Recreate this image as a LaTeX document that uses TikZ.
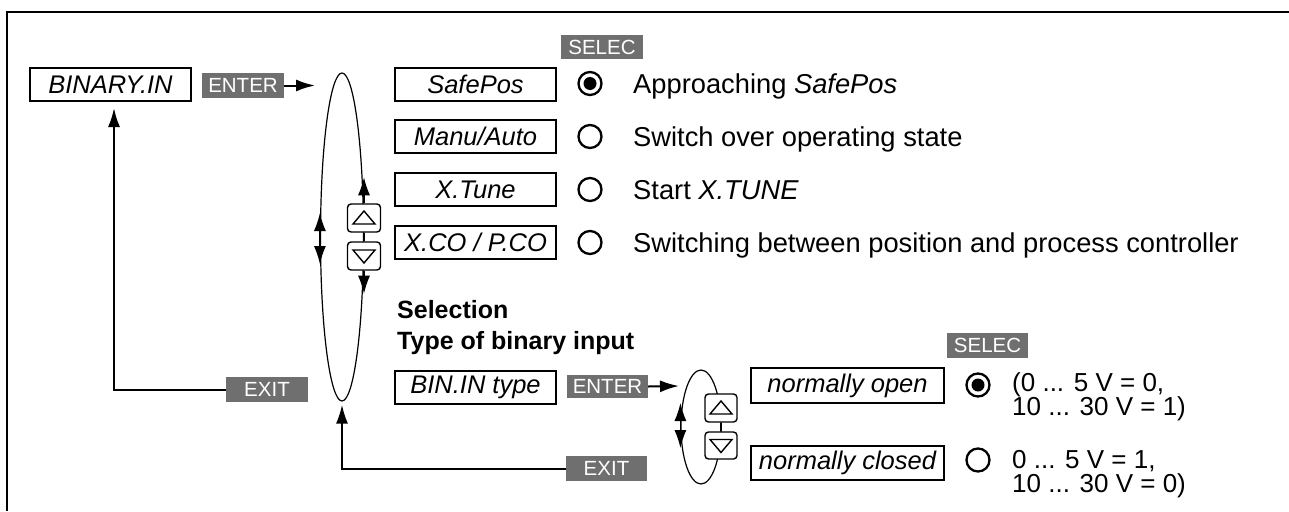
\documentclass[tikz,border=0pt]{standalone}
\usepackage{fontspec}
\setmainfont{Liberation Sans}
\usetikzlibrary{arrows.meta,shapes.geometric,calc}
\definecolor{keygray}{HTML}{6F6F6F}
\begin{document}
\begin{tikzpicture}[x=1pt,y=-1pt,
  lbl/.style={draw, line width=2pt, minimum height=33pt, minimum width=161pt, inner sep=0pt, font=\fontsize{25.5}{30}\selectfont\itshape},
  key/.style={fill=keygray, text=white, inner sep=0pt, minimum width=82pt, minimum height=25pt, font=\fontsize{20.5}{24}\selectfont},
  radio/.style={draw, circle, line width=2.3pt, minimum size=23pt, inner sep=0pt},
  radiosel/.style={radio, path picture={\fill (path picture bounding box.center) circle (6.5pt);}},
  body/.style={anchor=base west, inner sep=0pt, font=\fontsize{27.3}{32}\selectfont},
  volt/.style={anchor=base west, inner sep=0pt, font=\fontsize{26}{30}\selectfont},
  head/.style={anchor=base west, inner sep=0pt, font=\fontsize{25}{30}\selectfont\bfseries},
  loop/.style={draw, ellipse, line width=1.2pt, inner sep=0pt},
  btn/.style={draw, fill=white, rounded corners=3.5pt, line width=1.4pt, minimum width=33pt, minimum height=28pt, inner sep=0pt},
  btnup/.style={btn, path picture={\draw[sharp corners, line width=1.4pt]
      ([xshift=-11pt,yshift=-6pt]path picture bounding box.center) -- ([xshift=11pt,yshift=-6pt]path picture bounding box.center) -- ([yshift=7pt]path picture bounding box.center) -- cycle;}},
  btndn/.style={btn, path picture={\draw[sharp corners, line width=1.4pt]
      ([xshift=-11pt,yshift=6pt]path picture bounding box.center) -- ([xshift=11pt,yshift=6pt]path picture bounding box.center) -- ([yshift=-7pt]path picture bounding box.center) -- cycle;}},
  arr/.style={-{Latex[length=19pt,width=12pt]}, line width=2pt},
  thinarr/.style={-{Latex[length=18pt,width=12pt]}, line width=1.2pt}
]
\useasboundingbox (0,0) rectangle (1289,511);
% frame
\draw[line width=2.2pt] (7,511) -- (7,12) -- (1289,12);

% first level
\node[lbl] (binin) at (110.5,84.5) {BINARY.IN};
\node[key] (enter1) at (243,85.5) {ENTER};
\coordinate (e1in) at (315,85.5);
\draw[arr] (enter1.east) -- (e1in);

\node[loop, minimum width=43pt, minimum height=328pt] (ell1) at (342,237) {};
\node[btnup] (up1) at (364,218) {};
\node[btndn] (dn1) at (364,256) {};
\draw[line width=1.2pt] (up1.south) -- (dn1.north);
\draw[thinarr] (up1.north) -- ++(0,-26);
\draw[thinarr] (dn1.south) -- ++(0,23);
\draw[thinarr] (ell1.west) -- ++(0,-24);
\draw[thinarr] (ell1.west) -- ++(0,27);

\node[lbl] (safepos) at (475.5,84.5) {SafePos};
\node[lbl] (manu) at (475.5,136.5) {Manu/Auto};
\node[lbl] (xtune) at (475.5,189.5) {X.Tune};
\node[lbl] (xco) at (475.5,242.5) {X.CO / P.CO};

\node[key, minimum height=24pt] (selec1) at (602,47) {SELEC};
\node[radiosel] (r1) at (590,83.5) {};
\node[radio] (r2) at (590,136.5) {};
\node[radio] (r3) at (590,189.5) {};
\node[radio] (r4) at (590,242.5) {};

\node[body] (t1) at (633,93.5) {Approaching \textit{SafePos}};
\node[body] (t2) at (633,146) {Switch over operating state};
\node[body] (t3) at (633,199) {Start \textit{X.TUNE}};
\node[body] (t4) at (633,252) {Switching between position and process controller};

\node[head] (sel) at (397,318) {Selection};
\node[head] (typ) at (397,349) {Type of binary input};

% exit 1
\node[key] (exit1) at (267,389.5) {EXIT};
\draw[arr, shorten >=6pt] (exit1.west) -| ([xshift=3.5pt]binin.south);

% second level
\node[lbl] (bintype) at (475.5,387) {BIN.IN type};
\node[key, minimum width=81pt, minimum height=23pt] (enter2) at (607.5,386.5) {ENTER};
\coordinate (e2in) at (679,386);
\draw[arr] (enter2.east) -- (e2in);

\node[key, minimum width=81pt] (exit2) at (606.5,468.5) {EXIT};
\draw[arr, shorten >=3pt] (exit2.west) -| (ell1.south);

\node[loop, minimum width=40pt, minimum height=114pt] (ell2) at (701,427) {};
\node[btnup, minimum width=32pt] (up2) at (721,408) {};
\node[btndn, minimum width=32pt, minimum height=27pt] (dn2) at (721,445.5) {};
\draw[line width=1.2pt] (up2.south) -- (dn2.north);
\draw[thinarr] (ell2.west) -- ++(0,-24);
\draw[thinarr] (ell2.west) -- ++(0,21);

\node[lbl, minimum width=193pt, minimum height=35pt] (nopen) at (847.5,385.5) {normally open};
\node[lbl, minimum width=193pt, minimum height=34pt] (nclosed) at (847.5,463) {normally closed};

\node[key, minimum width=81pt] (selec2) at (987.5,345.5) {SELEC};
\node[radiosel] (r5) at (978,385) {};
\node[radio] (r6) at (978,460) {};

\node[volt] (v1) at (1012,391) {(0 ... 5 V = 0,};
\node[volt] (v2) at (1012,415) {10 ... 30 V = 1)};
\node[volt] (v3) at (1012,468) {0 ... 5 V = 1,};
\node[volt] (v4) at (1012,492) {10 ... 30 V = 0)};
\end{tikzpicture}
\end{document}
